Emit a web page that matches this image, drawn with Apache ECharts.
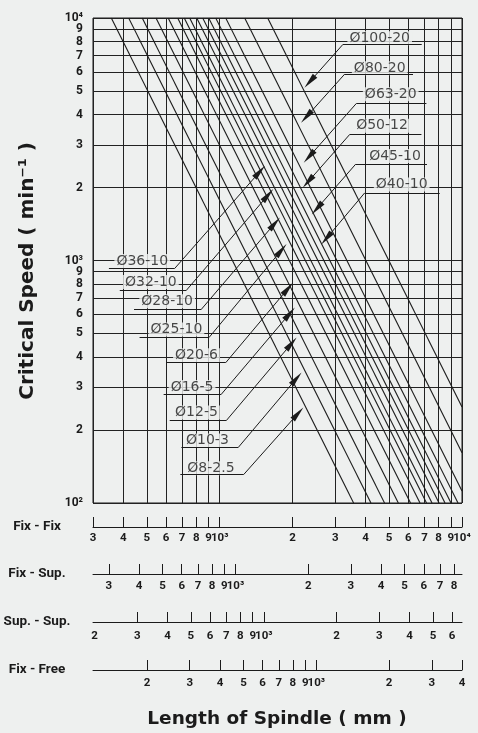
<!DOCTYPE html>
<html>
<head>
<meta charset="utf-8">
<script src="https://cdn.jsdelivr.net/npm/echarts@6/dist/echarts.min.js"></script>
<style>
html, body { margin: 0; padding: 0; background: #eef0ef; }
#chart { width: 478px; height: 733px; }
</style>
</head>
<body>
<div id="chart"></div>
<script>
// ball screw sizes: nominal diameter - lead (mm)
var spindles = ['Ø8-2.5', 'Ø10-3', 'Ø12-5', 'Ø16-5', 'Ø20-6', 'Ø25-10', 'Ø28-10', 'Ø32-10',
  'Ø36-10', 'Ø40-10', 'Ø45-10', 'Ø50-12', 'Ø63-20', 'Ø80-20', 'Ø100-20']

// each speed line: where it enters (top, 10^4 min-1) and where it leaves the chart  [length mm, speed]
var lineStart = [[357, 10000], [421, 10000], [479, 10000], [546, 10000], [613, 10000], [671, 10000],
  [714, 10000], [752, 10000], [804, 10000], [851, 10000], [901, 10000], [963, 10000],
  [1059, 10000], [1268, 10000], [1578, 10000]]
var lineEnd = [[3570, 100], [4210, 100], [4790, 100], [5460, 100], [6130, 100], [6710, 100],
  [7140, 100], [7520, 100], [8040, 100], [8510, 100], [9010, 100], [9630, 100],
  [10000, 112], [10000, 161], [10000, 249]]

// callouts: text centre, underline ends, arrow head
var labelAt = [[920, 139], [890, 181], [802, 236], [769, 301], [802, 407], [663, 519], [607, 679],
  [520, 816], [479, 996], [5638, 2059], [5292, 2695], [4675, 3594], [5079, 4843], [4575, 6199], [4575, 8245]]
var underlineFrom = [[688, 131], [695, 169], [622, 219], [587, 281], [603, 379], [467, 481], [443, 630],
  [387, 754], [349, 927], [8091, 1901], [7170, 2497], [6801, 3311], [7130, 4446], [6278, 5873], [6820, 7789]]
var underlineTo = [[1256, 131], [1190, 169], [1066, 219], [1016, 281], [1059, 379], [903, 481], [841, 630],
  [729, 754], [652, 927], [3967, 1901], [3642, 2497], [3441, 3311], [3667, 4446], [3282, 5873], [3228, 7789]]
var arrowAt = [[2105, 234], [2073, 326], [1977, 454], [1945, 604], [1914, 766], [1798, 1103], [1687, 1421],
  [1583, 1860], [1462, 2321], [2757, 1233], [2521, 1639], [2315, 2110], [2337, 2677], [2280, 3914], [2353, 5460]]

// axis ticks
var speedTicks = [100, 200, 300, 400, 500, 600, 700, 800, 900, 1000,
  2000, 3000, 4000, 5000, 6000, 7000, 8000, 9000, 10000]
var fixFixTicks = [300, 400, 500, 600, 700, 800, 900, 1000, 2000, 3000, 4000, 5000, 6000, 7000, 8000, 9000, 10000]
var fixSupTicks = [300, 400, 500, 600, 700, 800, 900, 1000, 2000, 3000, 4000, 5000, 6000, 7000, 8000]
var supSupTicks = [300, 400, 500, 600, 700, 800, 900, 1000, 2000, 3000, 4000, 5000, 6000]
var supSupLabels = [200, 300, 400, 500, 600, 700, 800, 900, 1000, 2000, 3000, 4000, 5000, 6000]
var fixFreeTicks = [200, 300, 400, 500, 600, 700, 800, 900, 1000, 2000, 3000, 4000]

// the four length scales (mounting methods) under the chart
var scaleNames = ['Fix - Fix', 'Fix - Sup.', 'Sup. - Sup.', 'Fix - Free']
var scaleMin = [300, 258, 197, 119.5]
var scaleMax = [10000, 8630, 6590, 4000]
var scaleTicks = [fixFixTicks, fixSupTicks, supSupTicks, fixFreeTicks]
var scaleLabels = [fixFixTicks, fixSupTicks, supSupLabels, fixFreeTicks]
var scaleY = [527, 574, 622, 670]
var scaleMargin = [5, 6, 8, 7]

var INK = '#1b1b1b'
var BG = '#eef0ef'
var FONT = 'DejaVu Sans'
var SUP = { 2: '²', 3: '³', 4: '⁴' }

function logLabel(v) {
  var e = Math.floor(Math.log10(v) + 1e-3)
  var m = Math.round(v / Math.pow(10, e))
  return m === 1 ? '10' + SUP[e] : String(m)
}
// labels are split over two stacked axes so echarts never drops a crowded end label
function everyOther(arr, start) {
  return arr.filter(function (v, i) { return i % 2 === start })
}

var tickFont = { color: INK, fontFamily: 'Roboto', fontWeight: 'bold' }

var chart = echarts.init(document.getElementById('chart'))

var grids = [{ left: 93, right: 16, top: 18, bottom: 230, show: true, borderColor: INK, borderWidth: 1, backgroundColor: 'transparent' }]
var xAxes = [{
  gridIndex: 0,
  type: 'log',
  logBase: 10,
  min: 300,
  max: 10000,
  axisLine: { show: false },
  axisTick: { show: false, customValues: fixFixTicks },
  axisLabel: { show: false, customValues: fixFixTicks },
  splitLine: { show: true, lineStyle: { color: '#222', width: 1 } }
}]

function speedAxis(labels, withLines) {
  return {
    gridIndex: 0,
    type: 'log',
    logBase: 10,
    min: 100,
    max: 10000,
    position: 'left',
    offset: 0,
    axisLine: { show: false },
    axisTick: { show: false, customValues: withLines ? speedTicks : labels },
    axisLabel: Object.assign({
      customValues: labels,
      formatter: logLabel,
      showMinLabel: true,
      showMaxLabel: true,
      margin: 10,
      fontSize: 12
    }, tickFont),
    splitLine: { show: withLines, lineStyle: { color: '#222', width: 1 } }
  }
}
var yAxes = [speedAxis(everyOther(speedTicks, 0), true)]

function lengthAxis(i, ticks, labels, showLine) {
  return {
    gridIndex: i + 1,
    type: 'log',
    logBase: 10,
    min: scaleMin[i],
    max: scaleMax[i],
    position: 'bottom',
    offset: 0,
    axisLine: { show: showLine, lineStyle: { color: INK, width: 1 } },
    axisTick: { show: showLine, inside: true, length: 10, customValues: ticks, lineStyle: { color: INK, width: 1 } },
    axisLabel: Object.assign({
      customValues: labels,
      formatter: logLabel,
      showMinLabel: true,
      showMaxLabel: true,
      margin: scaleMargin[i],
      fontSize: 11.5
    }, tickFont),
    splitLine: { show: false }
  }
}

scaleNames.forEach(function (name, i) {
  grids.push({ left: 93, right: 16, top: scaleY[i] - 10, height: 10 })
  xAxes.push(lengthAxis(i, scaleTicks[i], everyOther(scaleLabels[i], 0), true))
  yAxes.push({ gridIndex: i + 1, type: 'value', show: false })
})
scaleNames.forEach(function (name, i) {
  xAxes.push(lengthAxis(i, scaleTicks[i], everyOther(scaleLabels[i], 1), false))
})
yAxes.push(speedAxis(everyOther(speedTicks, 1), false))

var option = {
  backgroundColor: BG,
  animation: false,
  grid: grids,
  xAxis: xAxes,
  yAxis: yAxes,
  graphic: [
    {
      type: 'text', x: 28, y: 271, rotation: Math.PI / 2,
      style: { text: 'Critical Speed ( min⁻¹ )', fill: INK, font: 'bold 20px "DejaVu Sans"', align: 'center', verticalAlign: 'middle' }
    },
    {
      type: 'text', x: 277, y: 719,
      style: { text: 'Length of Spindle ( mm )', fill: INK, font: 'bold 18.5px "DejaVu Sans"', align: 'center', verticalAlign: 'middle' }
    }
  ].concat(scaleNames.map(function (name, i) {
    return {
      type: 'text', x: 37, y: scaleY[i],
      style: { text: name, fill: INK, font: 'bold 13.5px Roboto', align: 'center', verticalAlign: 'middle' }
    }
  })),
  series: [
    {
      name: 'speed',
      type: 'lines',
      coordinateSystem: 'cartesian2d',
      xAxisIndex: 0,
      yAxisIndex: 0,
      silent: true,
      z: 2,
      lineStyle: { color: INK, width: 1.1, opacity: 1 },
      data: spindles.map(function (s, i) {
        return { name: s, coords: [lineStart[i], lineEnd[i]] }
      })
    },
    {
      name: 'labels',
      type: 'scatter',
      xAxisIndex: 0,
      yAxisIndex: 0,
      silent: true,
      z: 3,
      symbolSize: 1,
      itemStyle: { color: 'transparent' },
      label: {
        show: true,
        position: 'inside',
        formatter: '{b}',
        color: INK,
        fontFamily: FONT,
        fontSize: 14,
        backgroundColor: BG,
        padding: [0, 2]
      },
      data: spindles.map(function (s, i) {
        return { name: s, value: labelAt[i] }
      })
    },
    {
      name: 'underlines',
      type: 'lines',
      coordinateSystem: 'cartesian2d',
      xAxisIndex: 0,
      yAxisIndex: 0,
      silent: true,
      z: 4,
      lineStyle: { color: INK, width: 1, opacity: 1 },
      data: spindles.map(function (s, i) {
        return { coords: [underlineFrom[i], underlineTo[i]] }
      })
    },
    {
      name: 'leaders',
      type: 'lines',
      coordinateSystem: 'cartesian2d',
      xAxisIndex: 0,
      yAxisIndex: 0,
      silent: true,
      z: 4,
      symbol: ['none', 'triangle'],
      symbolSize: [1, [6, 16]],
      lineStyle: { color: INK, width: 1, opacity: 1 },
      itemStyle: { color: INK },
      data: spindles.map(function (s, i) {
        return { coords: [underlineTo[i], arrowAt[i]] }
      })
    }
  ]
}

chart.setOption(option)
</script>
</body>
</html>
